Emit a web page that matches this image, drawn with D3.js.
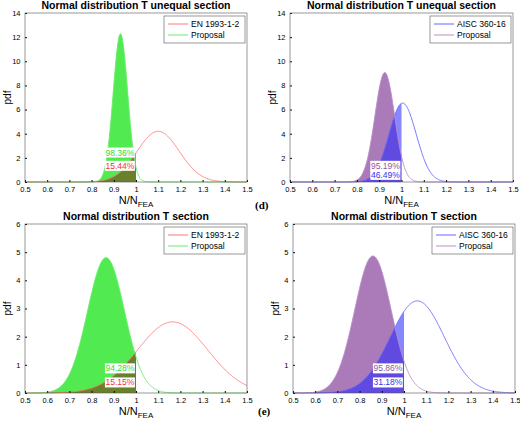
<!DOCTYPE html><html><head><script src="https://cdn.jsdelivr.net/npm/d3@7"></script>
<style>body{margin:0;background:#fff}svg{font-family:"Liberation Sans",Arial,sans-serif}</style></head><body>
<svg id="c" width="520" height="422"></svg>
<script>
const titles=["Normal distribution T unequal section","Normal distribution T unequal section","Normal distribution T  section","Normal distribution T  section"];
const codeNames=["EN 1993-1-2","AISC 360-16","EN 1993-1-2","AISC 360-16"];
const codeMean=[1.10,1.005,1.165,1.06];
const codeSd=[0.095,0.061,0.158,0.122];
const propMean=[0.93,0.925,0.865,0.86];
const propSd=[0.0325,0.044,0.083,0.082];
const propPct=["98.36%","95.19%","94.28%","95.86%"];
const codePct=["15.44%","46.49%","15.15%","31.18%"];
const yMax=[14,14,6,6];
const yTicks=[[0,2,4,6,8,10,12,14],[0,2,4,6,8,10,12,14],[0,1,2,3,4,5,6],[0,1,2,3,4,5,6]];
const xTicks=[0.5,0.6,0.7,0.8,0.9,1,1.1,1.2,1.3,1.4,1.5];
const labelY=[[2.15,1.05],[1.05,0.3],[0.75,0.25],[0.75,0.25]];
const styles=[{line:"#ff7777",prop:"#66ee66",fill:"#33e633",cfill:"#8b0000",ov:0.45},{line:"#6666ff",prop:"#b78ec7",fill:"#9b63ad",cfill:"#2222ff",ov:0.55},
{line:"#ff7777",prop:"#66ee66",fill:"#33e633",cfill:"#8b0000",ov:0.45},{line:"#6666ff",prop:"#b78ec7",fill:"#9b63ad",cfill:"#2222ff",ov:0.55}];
const boxes=[[25,247,13,182],[290,513,13,182],[25,247,224,393],[293,515,224,393]];
const pdf=(x,m,s)=>Math.exp(-0.5*((x-m)/s)**2)/(s*Math.sqrt(2*Math.PI));
const svg=d3.select("#c");
boxes.forEach((b,i)=>{
 const x=d3.scaleLinear([0.5,1.5],[b[0],b[1]]), y=d3.scaleLinear([0,yMax[i]],[b[3],b[2]]);
 const g=svg.append("g"), st=styles[i];
 const xs=d3.range(0.5,1.5001,0.002), xl=d3.range(0.5,1.0001,0.002);
 const area=(m,s)=>d3.area().x(d=>x(d)).y0(y(0)).y1(d=>y(pdf(d,m,s)));
 g.append("path").attr("d",area(propMean[i],propSd[i])(xl)).attr("fill",st.fill).attr("opacity",0.85);
 g.append("path").attr("d",area(codeMean[i],codeSd[i])(xl)).attr("fill",st.cfill).attr("opacity",st.ov);
 const ln=(m,s)=>d3.line().x(d=>x(d)).y(d=>y(pdf(d,m,s)));
 g.append("path").attr("d",ln(codeMean[i],codeSd[i])(xs)).attr("fill","none").attr("stroke",st.line).attr("stroke-width",0.9);
 g.append("path").attr("d",ln(propMean[i],propSd[i])(xs)).attr("fill","none").attr("stroke",st.prop).attr("stroke-width",0.9);
 g.append("g").attr("transform",`translate(0,${b[3]})`).call(d3.axisBottom(x).tickValues(xTicks).tickSize(-2).tickFormat(d3.format("~g"))).call(a=>{a.select(".domain").remove();a.selectAll("text").attr("font-size",7.5).attr("dy","0.9em");});
 g.append("g").attr("transform",`translate(${b[0]},0)`).call(d3.axisLeft(y).tickValues(yTicks[i]).tickSize(-2).tickFormat(d3.format("~g"))).call(a=>{a.select(".domain").remove();a.selectAll("text").attr("font-size",7.5).attr("dx","-0.2em");});
 g.append("rect").attr("x",b[0]).attr("y",b[2]).attr("width",b[1]-b[0]).attr("height",b[3]-b[2]).attr("fill","none").attr("stroke","#555").attr("stroke-width",0.6);
 g.append("text").attr("x",(b[0]+b[1])/2).attr("y",b[2]-4).attr("text-anchor","middle").attr("font-weight","bold").attr("font-size",10.5).text(titles[i]);
 const xl2=g.append("text").attr("x",(b[0]+b[1])/2).attr("y",b[3]+22).attr("text-anchor","middle").attr("font-size",11);
 xl2.append("tspan").text("N/N");xl2.append("tspan").attr("font-size",8).attr("dy",3).text("FEA");
 g.append("text").attr("transform",`translate(${b[0]-14},${(b[2]+b[3])/2}) rotate(-90)`).attr("text-anchor","middle").attr("font-size",10).text("pdf");
 const lx=b[1]-83, ly=b[2]+3;
 g.append("rect").attr("x",lx).attr("y",ly).attr("width",81).attr("height",27).attr("fill","#fff").attr("stroke","#555").attr("stroke-width",0.6);
 [[codeNames[i],st.line],["Proposal",st.prop]].forEach((e,k)=>{
  g.append("line").attr("x1",lx+4).attr("x2",lx+24).attr("y1",ly+8+k*11).attr("y2",ly+8+k*11).attr("stroke",e[1]);
  g.append("text").attr("x",lx+27).attr("y",ly+11+k*11).attr("font-size",8.5).text(e[0]);
 });
 [[propPct[i],i%2?"#8e5aa0":"#33dd33",labelY[i][0]],[codePct[i],i%2?"#3333ee":"#ee3333",labelY[i][1]]].forEach(e=>{
  const ty=y(e[2]);
  g.append("rect").attr("x",x(0.86)).attr("y",ty-8.5).attr("width",x(0.995)-x(0.86)).attr("height",10).attr("fill","#fff");
  g.append("text").attr("x",x(0.9275)).attr("y",ty-0.5).attr("text-anchor","middle").attr("font-size",8.5).attr("fill",e[1]).text(e[0]);
 });
});
svg.append("text").attr("x",255).attr("y",209).attr("font-family","Liberation Serif").attr("font-weight","bold").attr("font-size",11).text("(d)");
svg.append("text").attr("x",258).attr("y",415).attr("font-family","Liberation Serif").attr("font-weight","bold").attr("font-size",11).text("(e)");
</script></body></html>
